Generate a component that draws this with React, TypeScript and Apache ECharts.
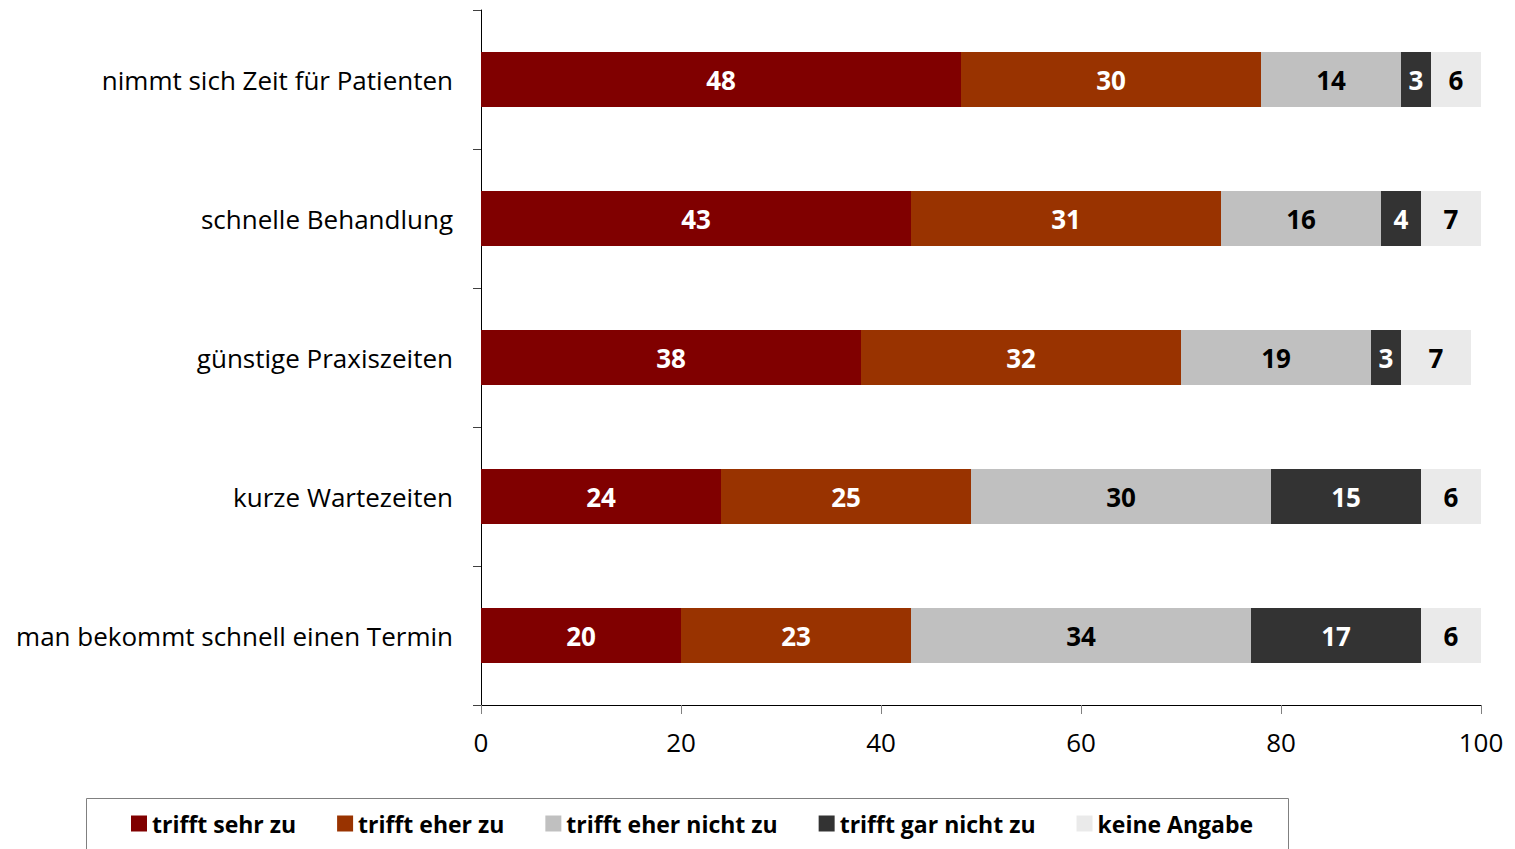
import React, { useEffect, useRef } from "react";
import * as echarts from "echarts";

const categories = [
  "nimmt sich Zeit für Patienten",
  "schnelle Behandlung",
  "günstige Praxiszeiten",
  "kurze Wartezeiten",
  "man bekommt schnell einen Termin",
];
const seriesNames = [
  "trifft sehr zu",
  "trifft eher zu",
  "trifft eher nicht zu",
  "trifft gar nicht zu",
  "keine Angabe",
];
const sehrZu = [48, 43, 38, 24, 20];
const eherZu = [30, 31, 32, 25, 23];
const eherNicht = [14, 16, 19, 30, 34];
const garNicht = [3, 4, 3, 15, 17];
const keineAngabe = [6, 7, 7, 6, 6];
const xTicks = [0, 20, 40, 60, 80, 100];

const colors = ["#800000", "#993300", "#C0C0C0", "#333333", "#EAEAEA"];
const labelColors = ["#FFFFFF", "#FFFFFF", "#000000", "#FFFFFF", "#000000"];

const FONT = "'Open Sans', 'Noto Sans', sans-serif";

export default function App() {
  const ref = useRef<HTMLDivElement>(null);
  useEffect(() => {
    document.body.style.margin = "0";
    document.body.style.overflow = "hidden";
    const chart = echarts.init(ref.current!, null, { renderer: "svg" });
    const values = [sehrZu, eherZu, eherNicht, garNicht, keineAngabe];
    chart.setOption({
      animation: false,
      textStyle: { fontFamily: FONT },
      grid: { left: 481, right: 34, top: 10, bottom: 144, containLabel: false },
      legend: {
        data: seriesNames,
        left: 131,
        top: 812,
        padding: 0,
        itemWidth: 16,
        itemHeight: 16,
        itemGap: 41,
        icon: "rect",
        textStyle: { fontFamily: FONT, fontSize: 23, fontWeight: "bold", color: "#000" },
      },
      graphic: [
        {
          type: "rect",
          shape: { x: 86.5, y: 798.5, width: 1202, height: 80 },
          style: { fill: "none", stroke: "#808080", lineWidth: 1 },
          silent: true,
        },
      ],
      xAxis: {
        type: "value",
        min: 0,
        max: 100,
        interval: 20,
        splitLine: { show: false },
        axisLine: { show: true, lineStyle: { color: "#000", width: 1 } },
        axisTick: { show: true, length: 9, lineStyle: { color: "#808080" } },
        axisLabel: {
          fontFamily: FONT,
          fontSize: 26,
          color: "#000",
          margin: 24,
          formatter: (v: number) => (xTicks.includes(v) ? String(v) : ""),
        },
      },
      yAxis: {
        type: "category",
        data: categories,
        inverse: true,
        axisLine: { show: true, lineStyle: { color: "#000", width: 1 } },
        axisTick: { show: true, length: 8, alignWithLabel: false, lineStyle: { color: "#404040" } },
        axisLabel: { fontFamily: FONT, fontSize: 26, color: "#000", margin: 28 },
      },
      series: seriesNames.map((name, i) => ({
        name,
        type: "bar",
        stack: "total",
        barWidth: 55,
        clip: true,
        data: values[i],
        itemStyle: { color: colors[i] },
        label: {
          show: true,
          position: "inside",
          fontFamily: FONT,
          fontSize: 26,
          fontWeight: "bold",
          color: labelColors[i],
        },
      })),
    });
    return () => chart.dispose();
  }, []);
  return <div ref={ref} style={{ width: 1515, height: 849 }} />;
}
